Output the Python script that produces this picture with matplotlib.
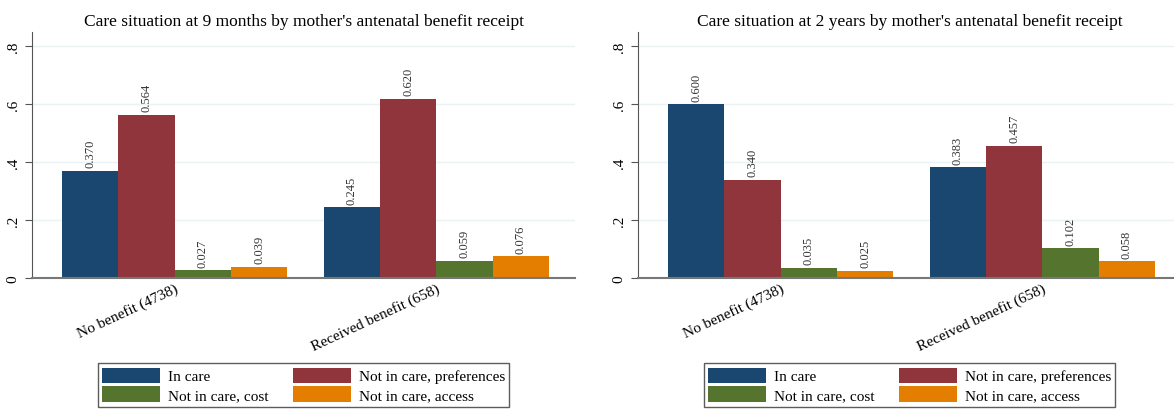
import matplotlib.pyplot as plt
import numpy as np
from matplotlib.patches import Patch

plt.rcParams['font.family'] = ['Liberation Serif', 'DejaVu Serif']

groups = ['No benefit (4738)', 'Received benefit (658)']
series = ['In care', 'Not in care, preferences', 'Not in care, cost', 'Not in care, access']
colors = ['#1a476f', '#90353b', '#55752f', '#e37e00']

titles = ["Care situation at 9 months by mother's antenatal benefit receipt",
          "Care situation at 2 years by mother's antenatal benefit receipt"]

# rows = groups, columns = series
vals_9m = [[0.370, 0.564, 0.027, 0.039],
           [0.245, 0.620, 0.059, 0.076]]
vals_2y = [[0.600, 0.340, 0.035, 0.025],
           [0.383, 0.457, 0.102, 0.058]]

yticks = [0, 0.2, 0.4, 0.6, 0.8]
ytick_labels = ['0', '.2', '.4', '.6', '.8']

fig = plt.figure(figsize=(11.74, 4.10), dpi=100)
W, H = 1174.0, 410.0
lefts = [32, 638]
bw = 0.215

# legend filled column-wise by matplotlib, so reorder to get row-major layout
order = [0, 2, 1, 3]

for k, (vals, title) in enumerate(zip([vals_9m, vals_2y], titles)):
    ax = fig.add_axes([lefts[k] / W, 1 - 279 / H, 543 / W, (279 - 33) / H])
    vals = np.array(vals)
    x = np.arange(len(groups))
    for j in range(len(series)):
        xs = x + (j - 1.5) * bw
        ax.bar(xs, vals[:, j], width=bw, color=colors[j], zorder=2)
        for xi, v in zip(xs, vals[:, j]):
            ax.text(xi, v + 0.012, '%.3f' % v, rotation=90, ha='center', va='bottom',
                    fontsize=9, color='#333333')
    ax.set_xlim(-0.545, 1.53)
    ax.set_ylim(0, 0.85)
    ax.set_yticks(yticks)
    ax.set_yticklabels(ytick_labels, rotation=90, va='center', fontsize=11)
    ax.set_xticks(x)
    ax.set_xticklabels(groups, rotation=25, ha='right', rotation_mode='anchor', fontsize=11)
    ax.tick_params(axis='x', length=0, pad=2)
    ax.tick_params(axis='y', length=5, color='#555555', pad=4)
    ax.grid(axis='y', color='#eaf2f3', linewidth=1, zorder=0)
    ax.set_axisbelow(True)
    for s in ['top', 'right']:
        ax.spines[s].set_visible(False)
    ax.spines['left'].set_color('#555555')
    ax.spines['bottom'].set_color('#777777')
    ax.spines['bottom'].set_linewidth(1.5)
    ax.spines['bottom'].set_zorder(3)
    ax.set_title(title, fontsize=12.5, pad=5)

    handles = [Patch(facecolor=c, edgecolor='none') for c in colors]
    cx = (lefts[k] + 543 / 2) / W
    fig.legend([handles[i] for i in order], [series[i] for i in order],
               loc='upper center', bbox_to_anchor=(cx, 1 - 364 / H),
               ncol=2, fontsize=11, frameon=True, fancybox=False, edgecolor='#333333',
               handlelength=3.8, handleheight=1.15, columnspacing=1.6, handletextpad=0.5,
               labelspacing=0.2, borderpad=0.3, borderaxespad=0)

fig.savefig('out.png', dpi=100)
